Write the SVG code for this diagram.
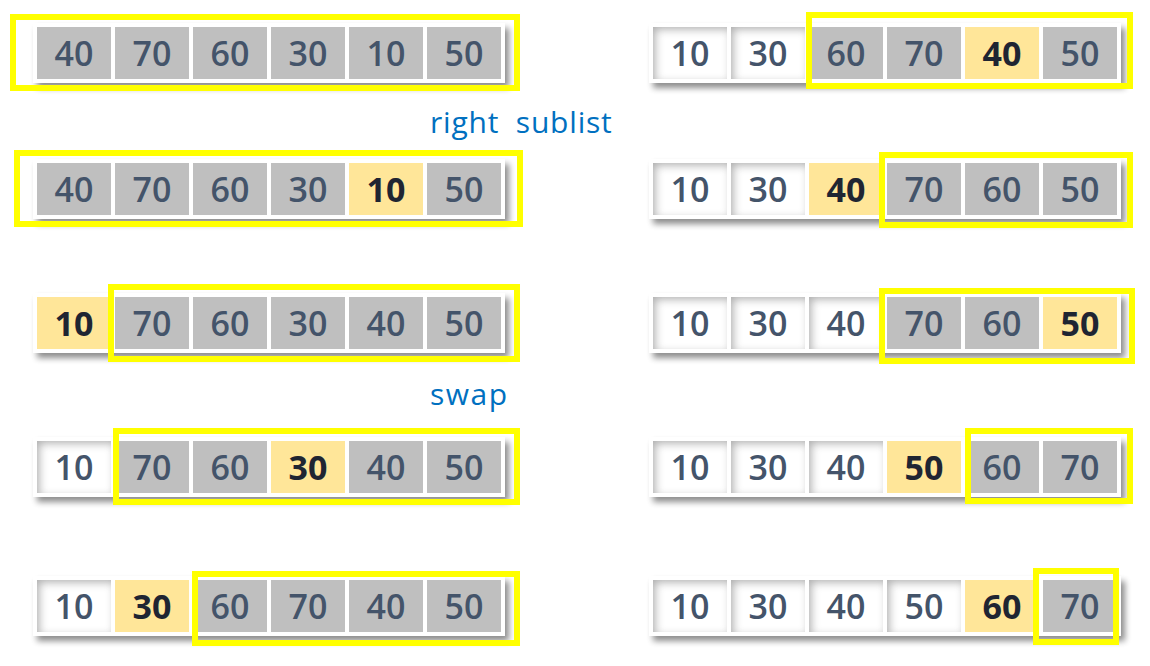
<svg xmlns="http://www.w3.org/2000/svg" width="1150" height="666" viewBox="0 0 1150 666">
<defs>
<filter id="tshadow" x="-5%" y="-20%" width="115%" height="160%">
<feGaussianBlur in="SourceAlpha" stdDeviation="3"/>
<feOffset dx="4" dy="5" result="b"/>
<feComponentTransfer in="b" result="s"><feFuncA type="linear" slope="0.45"/></feComponentTransfer>
<feMerge><feMergeNode in="s"/><feMergeNode in="SourceGraphic"/></feMerge>
</filter>
<filter id="inner" x="-30%" y="-30%" width="160%" height="160%">
<feFlood flood-color="#b0b0b0" result="f"/>
<feComposite in="f" in2="SourceAlpha" operator="out" result="o"/>
<feGaussianBlur in="o" stdDeviation="4"/>
<feOffset dx="3" dy="3" result="ob"/>
<feComposite in="ob" in2="SourceAlpha" operator="in" result="is"/>
<feMerge><feMergeNode in="SourceGraphic"/><feMergeNode in="is"/></feMerge>
</filter>
</defs>
<style>
.tbl{fill:#ffffff;filter:url(#tshadow)}
.g{fill:#bfbfbf}
.h{fill:#ffe699}
.w{fill:#ffffff;filter:url(#inner)}
.t{font-family:"Open Sans","Noto Sans","DejaVu Sans",sans-serif;font-size:34px;font-weight:600;fill:#44546a;text-anchor:middle}
.tb{font-family:"Open Sans","Noto Sans","DejaVu Sans",sans-serif;font-size:34px;font-weight:700;fill:#1f2532;text-anchor:middle}
.sel{fill:none;stroke:#ffff00;stroke-width:6}
.lbl{font-family:"Open Sans","Noto Sans","DejaVu Sans",sans-serif;font-size:30px;fill:#0070c0}
</style>
<rect width="1150" height="666" fill="#ffffff"/>

<!-- Left column -->
<g id="L1">
<rect class="tbl" x="33" y="23" width="472" height="60"/>
<g id="L1c1"><rect class="g" x="37" y="27" width="74" height="52"/><text class="t" x="74" y="66">40</text></g>
<g id="L1c2"><rect class="g" x="115" y="27" width="74" height="52"/><text class="t" x="152" y="66">70</text></g>
<g id="L1c3"><rect class="g" x="193" y="27" width="74" height="52"/><text class="t" x="230" y="66">60</text></g>
<g id="L1c4"><rect class="g" x="271" y="27" width="74" height="52"/><text class="t" x="308" y="66">30</text></g>
<g id="L1c5"><rect class="g" x="349" y="27" width="74" height="52"/><text class="t" x="386" y="66">10</text></g>
<g id="L1c6"><rect class="g" x="427" y="27" width="74" height="52"/><text class="t" x="464" y="66">50</text></g>
<rect class="sel" x="13" y="17" width="504" height="71"/>
</g>

<g id="L2">
<rect class="tbl" x="33" y="159" width="472" height="60"/>
<g id="L2c1"><rect class="g" x="37" y="163" width="74" height="52"/><text class="t" x="74" y="202">40</text></g>
<g id="L2c2"><rect class="g" x="115" y="163" width="74" height="52"/><text class="t" x="152" y="202">70</text></g>
<g id="L2c3"><rect class="g" x="193" y="163" width="74" height="52"/><text class="t" x="230" y="202">60</text></g>
<g id="L2c4"><rect class="g" x="271" y="163" width="74" height="52"/><text class="t" x="308" y="202">30</text></g>
<g id="L2c5"><rect class="h" x="349" y="163" width="74" height="52"/><text class="tb" x="386" y="202">10</text></g>
<g id="L2c6"><rect class="g" x="427" y="163" width="74" height="52"/><text class="t" x="464" y="202">50</text></g>
<rect class="sel" x="17" y="153" width="503" height="71"/>
</g>

<g id="L3">
<rect class="tbl" x="33" y="293" width="472" height="60"/>
<g id="L3c1"><rect class="h" x="37" y="297" width="74" height="52"/><text class="tb" x="74" y="336">10</text></g>
<g id="L3c2"><rect class="g" x="115" y="297" width="74" height="52"/><text class="t" x="152" y="336">70</text></g>
<g id="L3c3"><rect class="g" x="193" y="297" width="74" height="52"/><text class="t" x="230" y="336">60</text></g>
<g id="L3c4"><rect class="g" x="271" y="297" width="74" height="52"/><text class="t" x="308" y="336">30</text></g>
<g id="L3c5"><rect class="g" x="349" y="297" width="74" height="52"/><text class="t" x="386" y="336">40</text></g>
<g id="L3c6"><rect class="g" x="427" y="297" width="74" height="52"/><text class="t" x="464" y="336">50</text></g>
<rect class="sel" x="111" y="287" width="406" height="72"/>
</g>

<g id="L4">
<rect class="tbl" x="33" y="437" width="472" height="60"/>
<g id="L4c1"><rect class="w" x="37" y="441" width="74" height="52"/><text class="t" x="74" y="480">10</text></g>
<g id="L4c2"><rect class="g" x="115" y="441" width="74" height="52"/><text class="t" x="152" y="480">70</text></g>
<g id="L4c3"><rect class="g" x="193" y="441" width="74" height="52"/><text class="t" x="230" y="480">60</text></g>
<g id="L4c4"><rect class="h" x="271" y="441" width="74" height="52"/><text class="tb" x="308" y="480">30</text></g>
<g id="L4c5"><rect class="g" x="349" y="441" width="74" height="52"/><text class="t" x="386" y="480">40</text></g>
<g id="L4c6"><rect class="g" x="427" y="441" width="74" height="52"/><text class="t" x="464" y="480">50</text></g>
<rect class="sel" x="116" y="431" width="401" height="71"/>
</g>

<g id="L5">
<rect class="tbl" x="33" y="576" width="472" height="60"/>
<g id="L5c1"><rect class="w" x="37" y="580" width="74" height="52"/><text class="t" x="74" y="619">10</text></g>
<g id="L5c2"><rect class="h" x="115" y="580" width="74" height="52"/><text class="tb" x="152" y="619">30</text></g>
<g id="L5c3"><rect class="g" x="193" y="580" width="74" height="52"/><text class="t" x="230" y="619">60</text></g>
<g id="L5c4"><rect class="g" x="271" y="580" width="74" height="52"/><text class="t" x="308" y="619">70</text></g>
<g id="L5c5"><rect class="g" x="349" y="580" width="74" height="52"/><text class="t" x="386" y="619">40</text></g>
<g id="L5c6"><rect class="g" x="427" y="580" width="74" height="52"/><text class="t" x="464" y="619">50</text></g>
<rect class="sel" x="195" y="574" width="322" height="69"/>
</g>

<!-- Right column -->
<g id="R1">
<rect class="tbl" x="649" y="23" width="472" height="60"/>
<g id="R1c1"><rect class="w" x="653" y="27" width="74" height="52"/><text class="t" x="690" y="66">10</text></g>
<g id="R1c2"><rect class="w" x="731" y="27" width="74" height="52"/><text class="t" x="768" y="66">30</text></g>
<g id="R1c3"><rect class="g" x="809" y="27" width="74" height="52"/><text class="t" x="846" y="66">60</text></g>
<g id="R1c4"><rect class="g" x="887" y="27" width="74" height="52"/><text class="t" x="924" y="66">70</text></g>
<g id="R1c5"><rect class="h" x="965" y="27" width="74" height="52"/><text class="tb" x="1002" y="66">40</text></g>
<g id="R1c6"><rect class="g" x="1043" y="27" width="74" height="52"/><text class="t" x="1080" y="66">50</text></g>
<rect class="sel" x="809" y="15" width="321" height="71"/>
</g>

<g id="R2">
<rect class="tbl" x="649" y="159" width="472" height="60"/>
<g id="R2c1"><rect class="w" x="653" y="163" width="74" height="52"/><text class="t" x="690" y="202">10</text></g>
<g id="R2c2"><rect class="w" x="731" y="163" width="74" height="52"/><text class="t" x="768" y="202">30</text></g>
<g id="R2c3"><rect class="h" x="809" y="163" width="74" height="52"/><text class="tb" x="846" y="202">40</text></g>
<g id="R2c4"><rect class="g" x="887" y="163" width="74" height="52"/><text class="t" x="924" y="202">70</text></g>
<g id="R2c5"><rect class="g" x="965" y="163" width="74" height="52"/><text class="t" x="1002" y="202">60</text></g>
<g id="R2c6"><rect class="g" x="1043" y="163" width="74" height="52"/><text class="t" x="1080" y="202">50</text></g>
<rect class="sel" x="882" y="155" width="248" height="70"/>
</g>

<g id="R3">
<rect class="tbl" x="649" y="293" width="472" height="60"/>
<g id="R3c1"><rect class="w" x="653" y="297" width="74" height="52"/><text class="t" x="690" y="336">10</text></g>
<g id="R3c2"><rect class="w" x="731" y="297" width="74" height="52"/><text class="t" x="768" y="336">30</text></g>
<g id="R3c3"><rect class="w" x="809" y="297" width="74" height="52"/><text class="t" x="846" y="336">40</text></g>
<g id="R3c4"><rect class="g" x="887" y="297" width="74" height="52"/><text class="t" x="924" y="336">70</text></g>
<g id="R3c5"><rect class="g" x="965" y="297" width="74" height="52"/><text class="t" x="1002" y="336">60</text></g>
<g id="R3c6"><rect class="h" x="1043" y="297" width="74" height="52"/><text class="tb" x="1080" y="336">50</text></g>
<rect class="sel" x="882" y="291" width="250" height="70"/>
</g>

<g id="R4">
<rect class="tbl" x="649" y="437" width="472" height="60"/>
<g id="R4c1"><rect class="w" x="653" y="441" width="74" height="52"/><text class="t" x="690" y="480">10</text></g>
<g id="R4c2"><rect class="w" x="731" y="441" width="74" height="52"/><text class="t" x="768" y="480">30</text></g>
<g id="R4c3"><rect class="w" x="809" y="441" width="74" height="52"/><text class="t" x="846" y="480">40</text></g>
<g id="R4c4"><rect class="h" x="887" y="441" width="74" height="52"/><text class="tb" x="924" y="480">50</text></g>
<g id="R4c5"><rect class="g" x="965" y="441" width="74" height="52"/><text class="t" x="1002" y="480">60</text></g>
<g id="R4c6"><rect class="g" x="1043" y="441" width="74" height="52"/><text class="t" x="1080" y="480">70</text></g>
<rect class="sel" x="968" y="431" width="162" height="70"/>
</g>

<g id="R5">
<rect class="tbl" x="649" y="576" width="472" height="60"/>
<g id="R5c1"><rect class="w" x="653" y="580" width="74" height="52"/><text class="t" x="690" y="619">10</text></g>
<g id="R5c2"><rect class="w" x="731" y="580" width="74" height="52"/><text class="t" x="768" y="619">30</text></g>
<g id="R5c3"><rect class="w" x="809" y="580" width="74" height="52"/><text class="t" x="846" y="619">40</text></g>
<g id="R5c4"><rect class="w" x="887" y="580" width="74" height="52"/><text class="t" x="924" y="619">50</text></g>
<g id="R5c5"><rect class="h" x="965" y="580" width="74" height="52"/><text class="tb" x="1002" y="619">60</text></g>
<g id="R5c6"><rect class="g" x="1043" y="580" width="74" height="52"/><text class="t" x="1080" y="619">70</text></g>
<rect class="sel" x="1036" y="571" width="80" height="71"/>
</g>

<g id="labels">
<text id="lbl-right-sublist" class="lbl" x="430" y="133" letter-spacing="0.8" word-spacing="8">right sublist</text>
<text id="lbl-swap" class="lbl" x="430" y="405" letter-spacing="1.5">swap</text>
</g>
</svg>
